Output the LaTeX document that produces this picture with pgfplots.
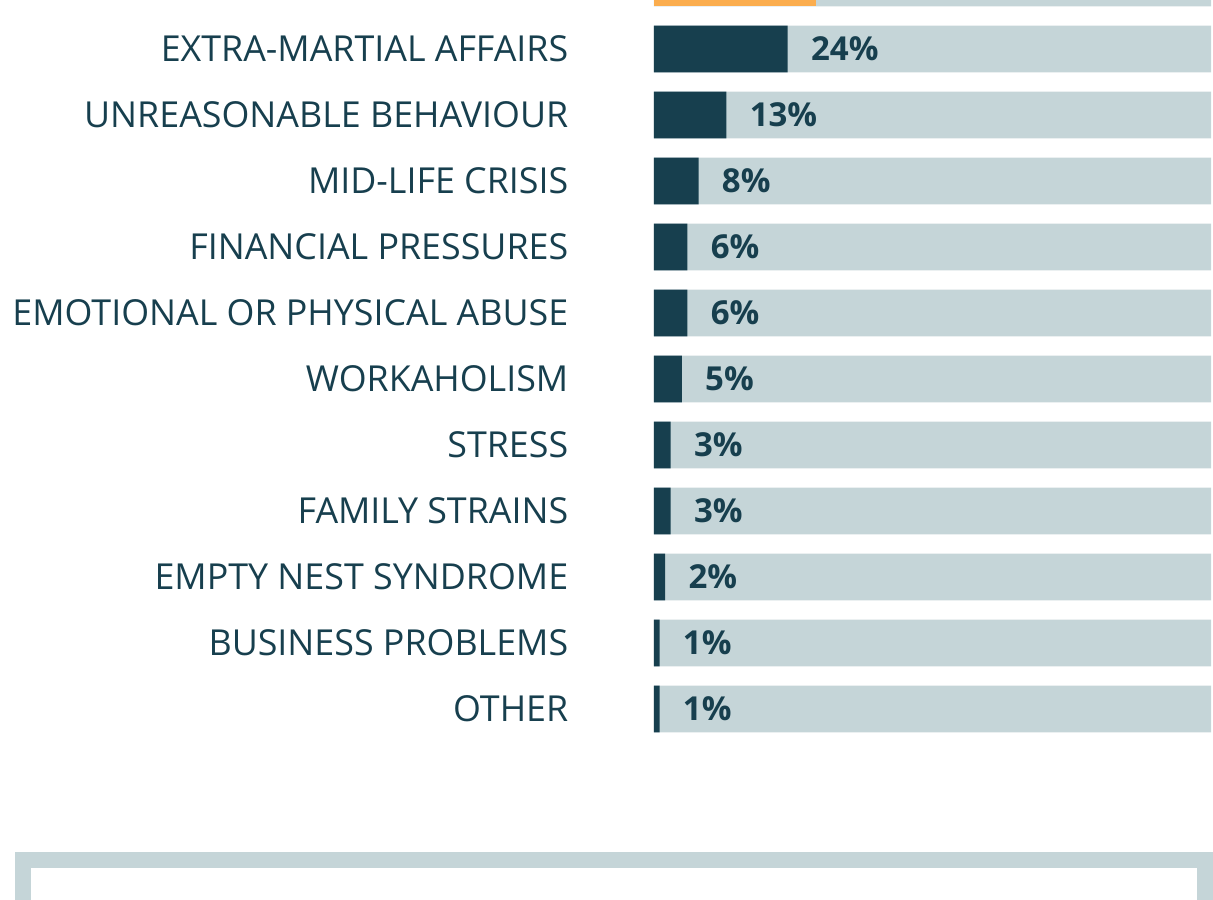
\documentclass[border=0pt]{standalone}
\usepackage{pgfplots}
\pgfplotsset{compat=1.18}
\usepackage{fontspec}
\setmainfont{Open Sans}
\definecolor{dark}{HTML}{173F4E}
\definecolor{bgbar}{HTML}{C5D5D8}
\definecolor{barorange}{HTML}{FBAD4E}
\begin{document}
\begin{tikzpicture}
\begin{axis}[
  width=606.5pt, height=449.5pt, scale only axis,
  xmin=-117.41, xmax=100.36, ymin=0.2576, ymax=13.879,
  y dir=reverse,
  hide axis,
  clip=true,
]
% background bars (100%)
\addplot[xbar, bar width=0.712, bar shift=0pt, fill=bgbar, draw=none]
  coordinates {(100,0) (100,1) (100,2) (100,3) (100,4) (100,5) (100,6) (100,7) (100,8) (100,9) (100,10) (100,11)};
% top (cut off) bar
\addplot[xbar, bar width=0.712, bar shift=0pt, fill=barorange, draw=none]
  coordinates {(29,0)};
% values
\addplot[xbar, bar width=0.712, bar shift=0pt, fill=dark, draw=none,
  nodes near coords={\pgfmathprintnumber[assume math mode=true]{\pgfplotspointmeta}\%},
  every node near coord/.append style={anchor=west, xshift=11.5pt, text=dark,
    font=\fontsize{16.5}{18}\selectfont\bfseries, inner sep=0pt}]
  coordinates {(24,1) (13,2) (8,3) (6,4) (6,5) (5,6) (3,7) (3,8) (2,9) (1,10) (1,11)};
% category labels
\addplot[only marks, mark=none, point meta=explicit symbolic,
  nodes near coords,
  every node near coord/.append style={anchor=east, xshift=-42.7pt, text=dark,
    font=\fontsize{17.9}{20}\selectfont, inner sep=0pt}]
  coordinates {
    (0,1) [EXTRA-MARTIAL AFFAIRS]
    (0,2) [UNREASONABLE BEHAVIOUR]
    (0,3) [MID-LIFE CRISIS]
    (0,4) [FINANCIAL PRESSURES]
    (0,5) [EMOTIONAL OR PHYSICAL ABUSE]
    (0,6) [WORKAHOLISM]
    (0,7) [STRESS]
    (0,8) [FAMILY STRAINS]
    (0,9) [EMPTY NEST SYNDROME]
    (0,10) [BUSINESS PROBLEMS]
    (0,11) [OTHER]
  };
\draw[bgbar, line width=8pt] (axis cs:-113.29,14.6) -- (axis cs:-113.29,13.288) -- (axis cs:98.92,13.288) -- (axis cs:98.92,14.6);
\end{axis}
\pgfresetboundingbox
\useasboundingbox (current axis.south west) rectangle (current axis.north east);
\end{tikzpicture}
\end{document}
